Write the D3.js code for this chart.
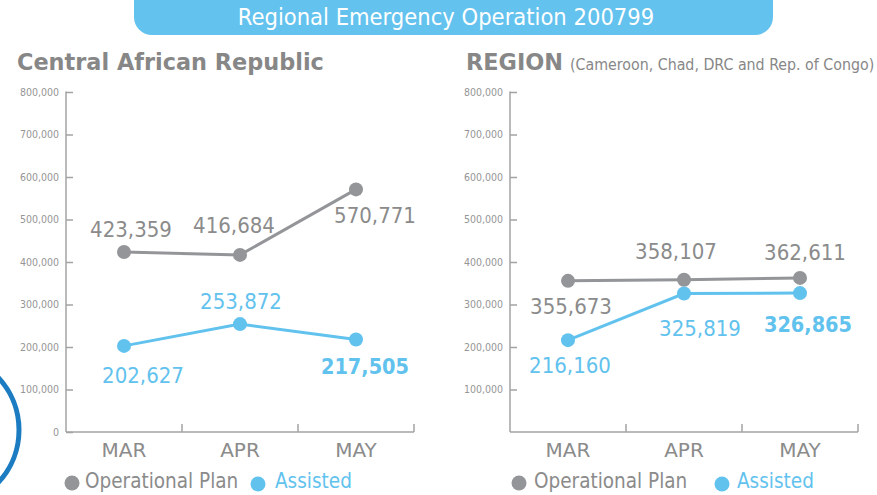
<!DOCTYPE html>
<html><head><meta charset="utf-8">
<script src="https://cdn.jsdelivr.net/npm/d3@7/dist/d3.min.js"></script>
<style>
html,body{margin:0;padding:0;background:#fff;}
svg{display:block;}
</style></head>
<body>
<script>
// ---- data ----
const months = ["MAR", "APR", "MAY"];
const carPlan = [423359, 416684, 570771];
const carAssisted = [202627, 253872, 217505];
const regionPlan = [355673, 358107, 362611];
const regionAssisted = [216160, 325819, 326865];
const leftTicks = [0, 100000, 200000, 300000, 400000, 500000, 600000, 700000, 800000];
const rightTicks = [100000, 200000, 300000, 400000, 500000, 600000, 700000, 800000];
const seriesNames = ["Operational Plan", "Assisted"];

// ---- style / layout ----
const W = 877, H = 495;
const GRAY = "#939598", GRAYTXT = "#8b8b8b", BLUE = "#62c2ee", AXIS = "#a3a3a3", DARKBLUE = "#1b7cc2";
const COND = '"DejaVu Sans Condensed","DejaVu Sans",sans-serif';

const svg = d3.select("body").append("svg").attr("width", W).attr("height", H);

// decorative arc at bottom-left
svg.append("circle").attr("cx", -58).attr("cy", 430).attr("r", 77)
  .attr("fill", "none").attr("stroke", DARKBLUE).attr("stroke-width", 5);

// header pill
svg.append("rect").attr("x", 134).attr("y", -20).attr("width", 639).attr("height", 55)
  .attr("rx", 18).attr("fill", "#63c2ee");
svg.append("text").attr("x", 446).attr("y", 25)
  .attr("text-anchor", "middle").attr("fill", "#fff").attr("font-size", 23.5)
  .style("font-family", COND).style("font-stretch", "condensed")
  .text("Regional Emergency Operation 200799");

function panel(cfg) {
  const g = svg.append("g");
  const y = d3.scaleLinear().domain([0, 800000]).range([432, 92]);
  const x = d3.scaleBand().domain(months).range([cfg.x0, cfg.x1]);
  const cx = d => x(d) + x.bandwidth() / 2;

  // title
  const t = g.append("text").attr("x", cfg.titleX).attr("y", 70)
    .attr("fill", "#878787").attr("font-family", "DejaVu Sans, sans-serif");
  t.append("tspan").attr("font-weight", "bold").attr("font-size", 22.4).text(cfg.title);
  if (cfg.sub) {
    t.append("tspan").attr("dx", 7).attr("font-size", 15.8).style("font-family", COND)
      .style("font-stretch", "condensed").text(cfg.sub);
  }

  // y axis
  const ya = g.append("g").attr("transform", `translate(${cfg.x0},0)`)
    .call(d3.axisLeft(y).tickValues(cfg.ticks).tickSizeInner(-7).tickSizeOuter(0)
      .tickPadding(7).tickFormat(d3.format(",")));
  ya.select(".domain").attr("stroke", AXIS).attr("stroke-width", 1.5)
    .attr("d", `M0,${y(0)}V${y(800000) - 0.5}`);
  ya.selectAll(".tick line").attr("stroke", AXIS).attr("stroke-width", 1.5);
  ya.selectAll(".tick text").attr("fill", "#959595").attr("font-size", 10.5)
    .style("font-family", COND).style("font-stretch", "condensed");

  // x axis line + boundary ticks
  g.append("line").attr("x1", cfg.x0).attr("x2", cfg.x1).attr("y1", y(0)).attr("y2", y(0))
    .attr("stroke", AXIS).attr("stroke-width", 1.5);
  const bounds = months.slice(1).map(m => x(m)).concat([cfg.x1]);
  g.selectAll(".xt").data(bounds).enter().append("line")
    .attr("x1", d => d).attr("x2", d => d).attr("y1", y(0)).attr("y2", y(0) - 8)
    .attr("stroke", AXIS).attr("stroke-width", 1.5);
  g.selectAll(".xl").data(months).enter().append("text")
    .attr("x", d => cx(d)).attr("y", 457).attr("text-anchor", "middle")
    .attr("fill", GRAYTXT).attr("font-size", 20).attr("font-family", "DejaVu Sans, sans-serif")
    .text(d => d);

  // series
  const series = [
    {vals: cfg.plan, color: GRAY, txt: GRAYTXT, off: cfg.planOff, bold: [false, false, false]},
    {vals: cfg.assisted, color: BLUE, txt: BLUE, off: cfg.asOff, bold: [false, false, true]}
  ];
  series.forEach(s => {
    const pts = months.map((m, i) => [cx(m), y(s.vals[i])]);
    g.append("path").attr("d", d3.line()(pts)).attr("fill", "none")
      .attr("stroke", s.color).attr("stroke-width", 3);
    g.selectAll(null).data(pts).enter().append("circle")
      .attr("cx", d => d[0]).attr("cy", d => d[1]).attr("r", 7).attr("fill", s.color);
    g.selectAll(null).data(s.vals).enter().append("text")
      .attr("x", (d, i) => pts[i][0] + s.off[i][0]).attr("y", (d, i) => pts[i][1] + s.off[i][1])
      .attr("text-anchor", "middle").attr("fill", s.txt)
      .attr("font-size", (d, i) => s.bold[i] ? 21.5 : 22)
      .attr("font-weight", (d, i) => s.bold[i] ? "bold" : "normal")
      .style("font-family", COND).style("font-stretch", "condensed")
      .text(d => d3.format(",")(d));
  });

  // legend
  const lg = g.append("g");
  lg.append("circle").attr("cx", cfg.leg[0]).attr("cy", 483).attr("r", 7.5).attr("fill", GRAY);
  lg.append("text").attr("x", cfg.leg[1]).attr("y", 488).attr("fill", GRAYTXT)
    .attr("font-size", 20.5).style("font-family", COND).style("font-stretch", "condensed")
    .text(seriesNames[0]);
  lg.append("circle").attr("cx", cfg.leg[2]).attr("cy", 484).attr("r", 7.5).attr("fill", BLUE);
  lg.append("text").attr("x", cfg.leg[3]).attr("y", 488).attr("fill", BLUE)
    .attr("font-size", 20.5).style("font-family", COND).style("font-stretch", "condensed")
    .text(seriesNames[1]);
}

panel({
  x0: 66, x1: 414, titleX: 17, title: "Central African Republic", ticks: leftTicks,
  plan: carPlan, assisted: carAssisted,
  planOff: [[7, -15], [-6, -22], [19, 34]],
  asOff: [[19, 37], [1, -15], [9, 34]],
  leg: [72, 85, 258, 275]
});
panel({
  x0: 510, x1: 858, titleX: 466, title: "REGION", sub: "(Cameroon, Chad, DRC and Rep. of Congo)",
  ticks: rightTicks,
  plan: regionPlan, assisted: regionAssisted,
  planOff: [[3, 33], [-8, -21], [5, -18]],
  asOff: [[2, 33], [16, 42], [8, 39]],
  leg: [519, 534, 722, 737]
});
</script>
</body></html>
